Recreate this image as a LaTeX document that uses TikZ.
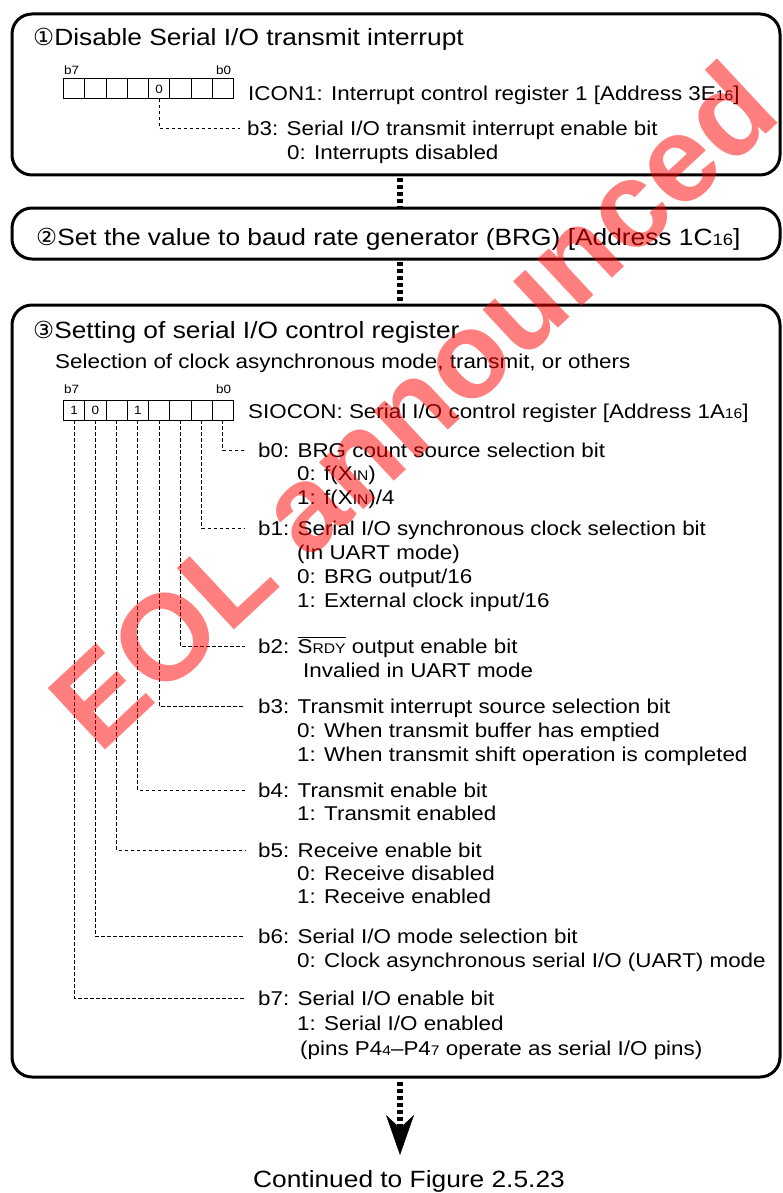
\documentclass[tikz,border=0pt]{standalone}
\usepackage{fontspec}
\setmainfont{Liberation Sans}[FakeStretch=1.12]
\newfontfamily\dejavu{DejaVu Sans}
\newfontfamily\wmfont{Liberation Sans}
\usepackage{graphicx}
\usetikzlibrary{arrows.meta}
\newcommand\subsm[1]{\scalebox{0.7}{#1}}
\newcommand\circnum[1]{{\dejavu #1}}
\tikzset{
  box/.style={draw, line width=3pt, rounded corners=20pt, anchor=north west, inner sep=0pt, outer sep=0pt},
  cell/.style={draw, line width=1pt, minimum width=21.25pt, minimum height=20pt, inner sep=0pt, outer sep=0pt, anchor=north west, font=\fontsize{12}{12}\selectfont},
  tinylbl/.style={anchor=base west, inner sep=0pt, font=\fontsize{12}{12}\selectfont},
  titletxt/.style={anchor=base west, inner sep=0pt, font=\fontsize{23.5}{23.5}\selectfont},
  desc/.style={anchor=base west, inner sep=0pt, font=\fontsize{20}{20}\selectfont},
  leader/.style={line width=0.8pt, dash pattern=on 3.5pt off 2.5pt},
  flow/.style={line width=6pt, dash pattern=on 4pt off 3pt},
  wm/.style={inner sep=0pt, text=red, text opacity=0.5, rotate=43, font=\wmfont\bfseries\fontsize{122}{122}\selectfont},
}
\begin{document}
\begin{tikzpicture}[x=1pt,y=-1pt]
\useasboundingbox (0,0) rectangle (782,1193);
\fill[white] (0,0) rectangle (782,1193);
% ---------- box 1
\node[box, minimum width=768pt, minimum height=161pt] (box1) at (12,14) {};
\node[titletxt] (t1) at (33,45.5) {\circnum{①}Disable Serial I/O transmit interrupt};
\node[tinylbl] (a7) at (64,75) {b7};
\node[tinylbl] (a0) at (216,75) {b0};
\foreach \b/\t [count=\k from 0] in {7/{},6/{},5/{},4/{},3/0,2/{},1/{},0/{}}
  \node[cell] (ra\b) at ({63.5+21.25*\k},79) {\t};
\node[desc] (icon) at (248,101) {ICON1: Interrupt control register 1 [Address 3E\subsm{16}]};
\node[desc] (l1a) at (247,135.5) {b3: Serial I/O transmit interrupt enable bit};
\node[desc] (l1b) at (287,159.5) {0: Interrupts disabled};
\draw[leader] (ra3.south) |- ([xshift=-7pt,yshift=7pt]l1a.base west);
% ---------- box 2
\node[box, minimum width=768pt, minimum height=51pt] (box2) at (12,208) {};
\node[titletxt] (t2) at (36,245) {\circnum{②}Set the value to baud rate generator (BRG) [Address 1C\subsm{16}]};
% ---------- box 3
\node[box, minimum width=768pt, minimum height=772pt] (box3) at (12,305) {};
\node[titletxt] (t3) at (33,338) {\circnum{③}Setting of serial I/O control register};
\node[desc] (sub3) at (55,368) {Selection of clock asynchronous mode, transmit, or others};
\node[tinylbl] (c7) at (64,393) {b7};
\node[tinylbl] (c0) at (216,393) {b0};
\foreach \b/\t [count=\k from 0] in {7/1,6/0,5/{},4/1,3/{},2/{},1/{},0/{}}
  \node[cell] (rb\b) at ({63.5+21.25*\k},400) {\t};
\node[desc] (siocon) at (248,418) {SIOCON: Serial I/O control register [Address 1A\subsm{16}]};
% items
\node[desc] (d0a) at (258,457) {b0: BRG count source selection bit};
\node[desc] (d0b) at (297,480.5) {0: f(X\subsm{IN})};
\node[desc] (d0c) at (297,504) {1: f(X\subsm{IN})/4};
\node[desc] (d1a) at (258,535) {b1: Serial I/O synchronous clock selection bit};
\node[desc] (d1b) at (297,559) {(In UART mode)};
\node[desc] (d1c) at (297,583) {0: BRG output/16};
\node[desc] (d1d) at (297,607) {1: External clock input/16};
\node[desc] (d2a) at (258,653) {b2: $\overline{\mbox{S\subsm{RDY}}}$ output enable bit};
\node[desc] (d2b) at (303,677) {Invalied in UART mode};
\node[desc] (d3a) at (258,713) {b3: Transmit interrupt source selection bit};
\node[desc] (d3b) at (297,737) {0: When transmit buffer has emptied};
\node[desc] (d3c) at (297,761) {1: When transmit shift operation is completed};
\node[desc] (d4a) at (258,797) {b4: Transmit enable bit};
\node[desc] (d4b) at (297,820) {1: Transmit enabled};
\node[desc] (d5a) at (258,857) {b5: Receive enable bit};
\node[desc] (d5b) at (297,880) {0: Receive disabled};
\node[desc] (d5c) at (297,903) {1: Receive enabled};
\node[desc] (d6a) at (258,943) {b6: Serial I/O mode selection bit};
\node[desc] (d6b) at (297,967) {0: Clock asynchronous serial I/O (UART) mode};
\node[desc] (d7a) at (258,1005) {b7: Serial I/O enable bit};
\node[desc] (d7b) at (297,1030) {1: Serial I/O enabled};
\node[desc] (d7c) at (300,1055) {(pins P4\subsm{4}–P4\subsm{7} operate as serial I/O pins)};
\foreach \b in {0,...,7}
  \draw[leader] (rb\b.south) |- ([xshift=-13pt,yshift=7pt]d\b a.base west);
% ---------- flow connectors
\draw[flow] ([xshift=4pt,yshift=-3pt]box1.south) -- ([xshift=4pt,yshift=1pt]box2.north);
\draw[flow] ([xshift=4pt,yshift=-3pt]box2.south) -- ([xshift=4pt,yshift=1pt]box3.north);
\node[titletxt, anchor=base] (cont) at (409,1187) {Continued to Figure 2.5.23};
\coordinate (tip) at (400,1155);
\draw[flow, -{Stealth[length=40pt,width=28pt,inset=13pt,line width=0.5pt]}] ([xshift=4pt,yshift=-5pt]box3.south) -- (tip);
% ---------- watermark
\node[wm] (wmark) at (412,405) {EOL announced};
\end{tikzpicture}
\end{document}
